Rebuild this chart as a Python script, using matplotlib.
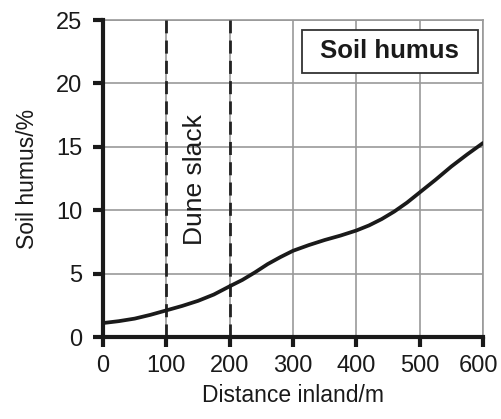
import matplotlib
matplotlib.use("Agg")
import matplotlib.pyplot as plt
from matplotlib.patches import Rectangle
from matplotlib.transforms import ScaledTranslation

# soil humus along the transect
distance = [0, 25, 50, 75, 100, 125, 150, 175, 200, 220, 240, 260, 280, 300,
            325, 350, 375, 400, 420, 440, 460, 480, 500, 525, 550, 575, 600]
humus = [1.1, 1.25, 1.45, 1.75, 2.1, 2.45, 2.85, 3.35, 4.0, 4.5, 5.1, 5.75, 6.3, 6.8,
         7.25, 7.65, 8.0, 8.4, 8.8, 9.3, 9.9, 10.6, 11.4, 12.4, 13.45, 14.4, 15.3]
slack_edges = [100, 200]

plt.rcParams['font.family'] = ['Liberation Sans', 'DejaVu Sans']
ink = "#1a1a1a"

fig = plt.figure(figsize=(5.01, 4.19), dpi=100)
ax = fig.add_axes([0.2056, 0.1957, 0.7585, 0.7565])

ax.set_xlim(0, 600)
ax.set_ylim(0, 25)
ax.set_xticks(range(0, 601, 100))
ax.set_yticks(range(0, 26, 5))
ax.grid(True, color="#999999", linewidth=1.2)
ax.set_axisbelow(True)

for x in slack_edges:
    ax.axvline(x, color="#222222", linewidth=2.0, linestyle=(0, (4.7, 2.6)), zorder=3)

ax.plot(distance, humus, color=ink, linewidth=2.7, zorder=4,
        solid_joinstyle="round", solid_capstyle="round")

for s in ["top", "right"]:
    ax.spines[s].set_color("#999999")
    ax.spines[s].set_linewidth(1.2)
for s in ["left", "bottom"]:
    ax.spines[s].set_color(ink)
    ax.spines[s].set_linewidth(3)
    ax.spines[s].set_zorder(5)

ax.tick_params(axis="both", direction="out", length=7, width=3, labelsize=17,
               color=ink, labelcolor=ink)
ax.tick_params(axis="x", pad=6)
ax.tick_params(axis="y", pad=8)

# nudge the last x label so it stays inside the figure
last = ax.xaxis.get_major_ticks()[-1].label1
last.set_transform(last.get_transform() + ScaledTranslation(-0.05, 0, fig.dpi_scale_trans))

ax.text(145, 12.4, "Dune slack", rotation=90, ha="center", va="center", fontsize=19, color=ink)

# legend-like label box
ax.add_patch(Rectangle((314, 20.85), 278, 3.35, facecolor="white", edgecolor="#333333",
                       linewidth=1.3, zorder=6))
ax.text(453, 22.55, "Soil humus", ha="center", va="center", fontsize=18.5,
        fontweight="bold", color=ink, zorder=7)

ax.set_xlabel("Distance inland/m", fontsize=16.5, color=ink, labelpad=5)
ax.set_ylabel("Soil humus/%", fontsize=16.5, color=ink, labelpad=12)

fig.savefig("out.png", dpi=100)
